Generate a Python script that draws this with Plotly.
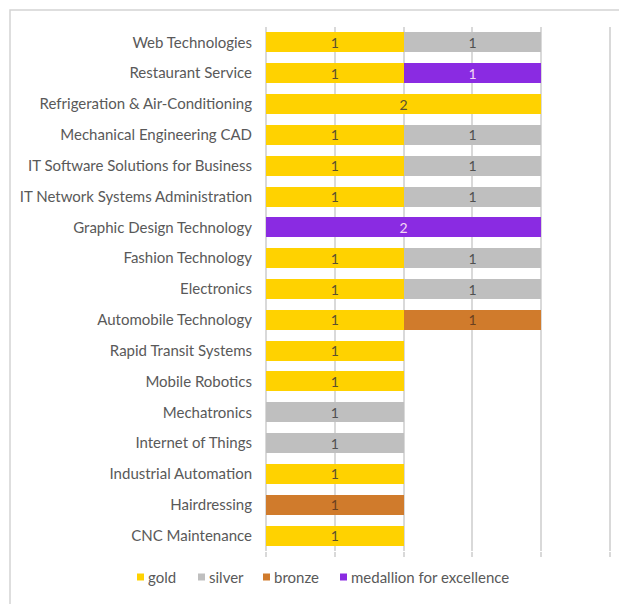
import plotly.graph_objects as go

# Skills, listed top to bottom as they appear on the chart
skills = [
    "Web Technologies",
    "Restaurant Service",
    "Refrigeration & Air-Conditioning",
    "Mechanical Engineering CAD",
    "IT Software Solutions for Business",
    "IT Network Systems Administration",
    "Graphic Design Technology",
    "Fashion Technology",
    "Electronics",
    "Automobile Technology",
    "Rapid Transit Systems",
    "Mobile Robotics",
    "Mechatronics",
    "Internet of Things",
    "Industrial Automation",
    "Hairdressing",
    "CNC Maintenance",
]

gold = [1, 1, 2, 1, 1, 1, None, 1, 1, 1, 1, 1, None, None, 1, None, 1]
silver = [1, None, None, 1, 1, 1, None, 1, 1, None, None, None, 1, 1, None, None, None]
bronze = [None, None, None, None, None, None, None, None, None, 1, None, None, None, None, None, 1, None]
medallion = [None, 1, None, None, None, None, 2, None, None, None, None, None, None, None, None, None, None]

series = [
    ("gold", gold, "#FFD200", "#5a5030"),
    ("silver", silver, "#BFBFBF", "#505050"),
    ("bronze", bronze, "#D07B2C", "#6a4020"),
    ("medallion for excellence", medallion, "#8A2BE2", "#F4D8F4"),
]

FONT = "Lato, 'Open Sans', sans-serif"
W, H = 619, 604
L, R, T, B = 266, 2, 27, 53
PW = W - L - R
PH = H - T - B

fig = go.Figure()
for name, vals, color, txtcolor in series:
    fig.add_trace(go.Bar(
        name=name,
        y=skills,
        x=vals,
        orientation="h",
        marker=dict(color=color, line=dict(width=0)),
        texttemplate="%{x}",
        textposition="inside",
        insidetextanchor="middle",
        textangle=0,
        constraintext="none",
        textfont=dict(color=txtcolor, size=14, family=FONT),
        cliponaxis=False,
        showlegend=False,
    ))

# Compact legend row under the plot: small colour key + name per series
def px_x(px):
    return (px - L) / PW

def px_y(py):
    return (H - B - py) / PH

legend_left = [137, 198, 263, 340]
legend_mid = 577
shapes = []
annotations = []
for (name, _, color, _), left in zip(series, legend_left):
    shapes.append(dict(
        type="rect", xref="paper", yref="paper",
        x0=px_x(left), x1=px_x(left + 7),
        y0=px_y(legend_mid + 3.5), y1=px_y(legend_mid - 3.5),
        fillcolor=color, line=dict(width=0),
    ))
    annotations.append(dict(
        text=name, xref="paper", yref="paper",
        x=px_x(left + 9), y=px_y(legend_mid),
        xanchor="left", yanchor="middle", showarrow=False,
        font=dict(size=15, color="#595959", family=FONT),
    ))

# chart frame (runs past the right and bottom edges of the page)
shapes.append(dict(
    type="rect", xref="paper", yref="paper",
    x0=px_x(10), x1=1.2, y0=-0.3, y1=px_y(10),
    line=dict(color="#D4D4D4", width=1.5), layer="below",
))

fig.update_layout(
    width=W,
    height=H,
    barmode="stack",
    bargap=0.35,
    paper_bgcolor="white",
    plot_bgcolor="white",
    margin=dict(l=L, r=R, t=T, b=B, autoexpand=False),
    font=dict(family=FONT, size=15, color="#595959"),
    showlegend=False,
    xaxis=dict(
        range=[0, 2.55],
        tickvals=[0, 0.5, 1, 1.5, 2, 2.5],
        showticklabels=False,
        showgrid=True,
        gridcolor="#D9D9D9",
        gridwidth=1.5,
        zeroline=True,
        zerolinecolor="#D9D9D9",
        zerolinewidth=1.5,
        ticks="outside",
        ticklen=5,
        tickcolor="#D9D9D9",
        tickwidth=1.5,
        fixedrange=True,
    ),
    yaxis=dict(
        categoryorder="array",
        categoryarray=skills,
        autorange="reversed",
        showgrid=False,
        ticks="",
        ticklabelstandoff=13,
        tickfont=dict(size=15, color="#595959"),
    ),
    shapes=shapes,
    annotations=annotations,
)

fig.write_html("out.html")
